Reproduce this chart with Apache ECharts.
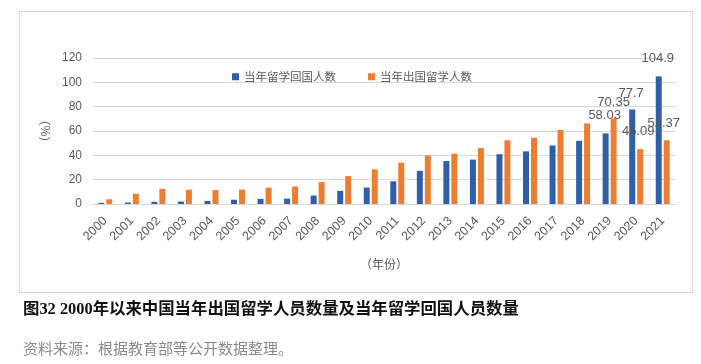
<!DOCTYPE html>
<html>
<head>
<meta charset="utf-8">
<script src="https://cdn.jsdelivr.net/npm/echarts@6/dist/echarts.min.js"></script>
<style>
html,body{margin:0;padding:0;background:#fff;}
#c{width:701px;height:364px;}
</style>
</head>
<body>
<div id="c"></div>
<script>
const years = ['2000','2001','2002','2003','2004','2005','2006','2007','2008','2009','2010','2011','2012','2013','2014','2015','2016','2017','2018','2019','2020','2021'];
const returnees = [0.91,1.22,1.79,2.01,2.51,3.5,4.2,4.4,6.93,10.83,13.48,18.62,27.29,35.35,36.48,40.91,43.25,48.09,51.94,58.03,77.7,104.9];
const outbound = [3.9,8.4,12.5,11.73,11.47,11.85,13.4,14.4,17.98,22.93,28.47,33.97,39.96,41.39,45.98,52.37,54.45,60.84,66.21,70.35,45.09,52.37];
const seriesNames = ['当年留学回国人数','当年出国留学人数'];
const yTicks = [0,20,40,60,80,100,120];
const labelledYears = ['2019','2020','2021'];

// label offsets (style only)
const blueOffsets = {'2019':[-1,-6],'2020':[-1,-5],'2021':[-1,-6]};
const orangeOffsets = {'2019':[0,-4],'2020':[-2,-6],'2021':[-3,-5]};

const labelFont = {fontSize:13,color:'#595959',fontFamily:'Liberation Sans, Arial, sans-serif'};
function build(values, offsets){
  return values.map((v,i)=>{
    const y = years[i];
    if (labelledYears.indexOf(y) >= 0){
      return {value:v,label:Object.assign({show:true,position:'top',distance:5,offset:offsets[y]},labelFont)};
    }
    return v;
  });
}

const chart = echarts.init(document.getElementById('c'), null, {renderer:'canvas'});
const font = 'Liberation Sans, "Noto Sans CJK SC", sans-serif';
chart.setOption({
  backgroundColor:'#fff',
  animation:false,
  textStyle:{fontFamily:font},
  title:[
    {text:'图32 2000年以来中国当年出国留学人员数量及当年留学回国人员数量',left:18,top:297,
     textStyle:{fontSize:16.4,fontWeight:'bold',color:'#111',fontFamily:'"Liberation Serif", "Noto Sans CJK SC", serif'}},
    {text:'资料来源：根据教育部等公开数据整理。',left:18,top:336,
     textStyle:{fontSize:15,fontWeight:'normal',color:'#8a8a8a',fontFamily:'"Noto Sans CJK SC", sans-serif'}}
  ],
  graphic:[
    {type:'rect',shape:{x:19.5,y:11.5,width:673,height:281},style:{fill:null,stroke:'#d9d9d9',lineWidth:1},silent:true,z:-1}
  ],
  legend:{
    data:seriesNames,left:227,top:66,icon:'rect',itemWidth:7,itemHeight:7,itemGap:32,
    textStyle:{fontSize:11.5,color:'#595959',fontFamily:'"Noto Sans CJK SC", sans-serif'}
  },
  grid:{left:92,right:25,top:58,bottom:160,containLabel:false},
  xAxis:{
    type:'category',data:years,
    name:'（年份）',nameLocation:'middle',nameGap:54,
    nameTextStyle:{fontSize:12,color:'#595959',fontFamily:'"Noto Sans CJK SC", sans-serif'},
    axisLine:{lineStyle:{color:'#d9d9d9'}},axisTick:{show:false},
    axisLabel:{rotate:45,interval:0,margin:15,fontSize:12.5,color:'#595959',fontFamily:'Liberation Sans, Arial, sans-serif'}
  },
  yAxis:{
    type:'value',min:0,max:120,interval:20,
    name:'（%）',nameLocation:'middle',nameGap:37,nameRotate:90,
    nameTextStyle:{fontSize:12,color:'#595959',fontFamily:'"Noto Sans CJK SC", sans-serif'},
    axisLine:{show:false},axisTick:{show:false},
    splitLine:{lineStyle:{color:'#d9d9d9'}},
    axisLabel:{margin:10,fontSize:12,color:'#595959',fontFamily:'Liberation Sans, Arial, sans-serif',
      formatter:v=>yTicks.indexOf(v)>=0?String(v):''}
  },
  series:[
    {name:seriesNames[0],type:'bar',data:build(returnees,blueOffsets),barWidth:6,barGap:'33%',itemStyle:{color:'#2f5fa9'}},
    {name:seriesNames[1],type:'bar',data:build(outbound,orangeOffsets),barWidth:6,barGap:'33%',itemStyle:{color:'#ed7d31'}}
  ]
});
</script>
</body>
</html>
